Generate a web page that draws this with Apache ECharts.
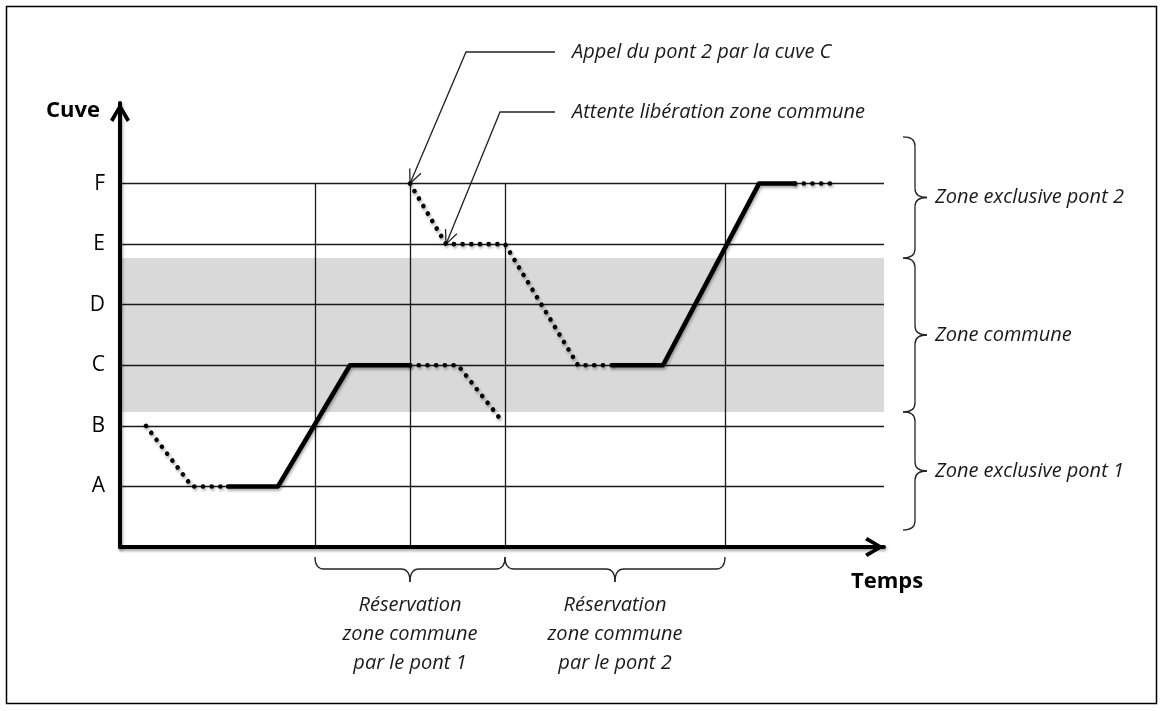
<!DOCTYPE html>
<html><head><meta charset="utf-8">
<script src="https://cdn.jsdelivr.net/npm/echarts@6/dist/echarts.min.js"></script>
<style>html,body{margin:0;padding:0;background:#fff}#c{width:1164px;height:711px}</style>
</head><body><div id="c"></div>
<script>
// ---- data ----
const yTickLabels = ['A', 'B', 'C', 'D', 'E', 'F'];   // tank levels at y = 1..6
const yAxisName = 'Cuve';
const xAxisName = 'Temps';
// Pont 1 path (x = time units, y = tank level)
const pont1Approach = [[5.2, 2], [14.4, 1], [21.6, 1]];
const pont1Move = [[21.6, 1], [31.6, 1], [46, 3], [58, 3]];
const pont1Leave = [[58, 3], [67.6, 3], [76.4, 2.08]];
// Pont 2 path
const pont2Approach = [[58, 6], [65.2, 5], [77, 5], [91.6, 3], [98.6, 3]];
const pont2Move = [[98.6, 3], [108.6, 3], [127.8, 6], [135, 6]];
const pont2Leave = [[135, 6], [142, 6]];
// Time marks (vertical lines, up to level F)
const timeMarks = [39, 58, 77, 121];
const commonZone = [2.23, 4.77];
const zoneNames = ['Zone exclusive pont 2', 'Zone commune', 'Zone exclusive pont 1'];
const zoneFrom = [4.77, 2.23, 0.28];
const zoneTo = [6.77, 4.77, 2.23];
const reservationLabels = ['Réservation\nzone commune\npar le pont 1', 'Réservation\nzone commune\npar le pont 2'];
const reservationFrom = [39, 77];
const reservationTo = [77, 121];
const calloutLabels = ['Appel du pont 2 par la cuve C', 'Attente libération zone commune'];
const calloutTargets = [[58, 6], [65.2, 5]];

// ---- styles ----
const DOT = [0.1, 8.6];
const shadow = {shadowBlur: 3, shadowColor: 'rgba(0,0,0,0.35)', shadowOffsetX: 1, shadowOffsetY: 2};
const chevron = 'path://M9,0 L18,15 L15,17 L9,6 L3,17 L0,15 Z';
const FONT = '"Open Sans", "DejaVu Sans", sans-serif';

function pathSeries(name, data, dotted, extra) {
  return Object.assign({
    name: name, type: 'line', data: data, showSymbol: false, symbol: 'none',
    silent: true, clip: false, z: 3,
    lineStyle: Object.assign({color: '#000', width: 4.6, type: dotted ? DOT : 'solid', cap: 'round', join: 'round'}, shadow)
  }, extra || {});
}

const option = {
  animation: false,
  backgroundColor: '#fff',
  grid: {left: 120, top: 103, width: 764, height: 444, containLabel: false, outerBoundsMode: 'none'},
  xAxis: {
    type: 'value', min: 0, max: 152.8, z: 10,
    name: xAxisName, nameLocation: 'end', nameGap: 3,
    nameTextStyle: {fontFamily: FONT, fontWeight: 'bold', fontSize: 22, color: '#000', align: 'center', verticalAlign: 'top', padding: [24, 0, 0, 0]},
    axisLine: {show: true, symbol: ['none', chevron], symbolSize: [20, 19], symbolOffset: [0, -9.5],
      lineStyle: Object.assign({color: '#000', width: 4}, shadow)},
    axisTick: {show: false}, axisLabel: {show: false}, splitLine: {show: false}
  },
  yAxis: {
    type: 'value', min: 0, max: 7.33, interval: 1, z: 10,
    name: yAxisName, nameLocation: 'end', nameGap: -8,
    nameTextStyle: {fontFamily: FONT, fontWeight: 'bold', fontSize: 22, color: '#000', align: 'right', verticalAlign: 'middle', padding: [0, 20, 0, 0]},
    axisLine: {show: true, symbol: ['none', chevron], symbolSize: [20, 19], symbolOffset: [0, -9.5],
      lineStyle: Object.assign({color: '#000', width: 4}, shadow)},
    axisTick: {show: false},
    axisLabel: {show: true, margin: 15, fontSize: 21, fontFamily: FONT, color: '#000',
      formatter: v => (Number.isInteger(v) && yTickLabels[v - 1]) ? yTickLabels[v - 1] : ''},
    splitLine: {show: false}
  },
  series: [
    pathSeries('Pont 1 approche', pont1Approach, true, {
      markArea: {silent: true, z: 1, itemStyle: {color: '#d9d9d9'}, label: {show: false},
        data: [[{yAxis: commonZone[0]}, {yAxis: commonZone[1]}]]}
    }),
    pathSeries('Pont 1 déplacement', pont1Move, false, {
      markLine: {silent: true, symbol: 'none', z: 2, animation: false, label: {show: false},
        lineStyle: {color: '#1a1a1a', width: 1.3, type: 'solid'},
        data: yTickLabels.map((_, i) => ({yAxis: i + 1}))
          .concat(timeMarks.map(t => [{coord: [t, 0]}, {coord: [t, yTickLabels.length]}]))}
    }),
    pathSeries('Pont 1 libération', pont1Leave, true),
    pathSeries('Pont 2 approche', pont2Approach, true),
    pathSeries('Pont 2 déplacement', pont2Move, false),
    pathSeries('Pont 2 suite', pont2Leave, true)
  ]
};

const chart = echarts.init(document.getElementById('c'), null, {renderer: 'canvas'});
chart.setOption(option);

const px = p => chart.convertToPixel({gridIndex: 0}, p);
const thin = {stroke: '#222', lineWidth: 1.3, fill: null};
const textFont = 'italic 20px ' + FONT;
const g = [];
const line = (a, b) => g.push({type: 'line', silent: true, shape: {x1: a[0], y1: a[1], x2: b[0], y2: b[1]}, style: thin});
const quad = (a, c, b) => g.push({type: 'bezierCurve', silent: true,
  shape: {x1: a[0], y1: a[1], cpx1: c[0], cpy1: c[1], x2: b[0], y2: b[1]}, style: thin});

g.push({type: 'rect', silent: true, z: 0, shape: {x: 6.5, y: 6.5, width: 1150, height: 697},
  style: {fill: null, stroke: '#000', lineWidth: 1.5}});

// right-hand braces for zones
zoneNames.forEach((name, i) => {
  const y1 = px([0, zoneTo[i]])[1], y2 = px([0, zoneFrom[i]])[1], ym = (y1 + y2) / 2;
  const xe = 903, xs = 915, xt = 927, r = 9;
  quad([xe, y1], [xs, y1], [xs, y1 + r]);
  line([xs, y1 + r], [xs, ym - r]);
  quad([xs, ym - r], [xs, ym], [xt, ym]);
  quad([xt, ym], [xs, ym], [xs, ym + r]);
  line([xs, ym + r], [xs, y2 - r]);
  quad([xs, y2 - r], [xs, y2], [xe, y2]);
  g.push({type: 'text', silent: true, x: 935, y: ym,
    style: {text: name, font: textFont, fill: '#1a1a1a', align: 'left', verticalAlign: 'middle'}});
});

// bottom braces for reservations
reservationLabels.forEach((label, i) => {
  const x1 = px([reservationFrom[i], 0])[0], x2 = px([reservationTo[i], 0])[0], xm = (x1 + x2) / 2;
  const ye = 557, ys = 569, yt = 582, r = 9;
  quad([x1, ye], [x1, ys], [x1 + r, ys]);
  line([x1 + r, ys], [xm - r, ys]);
  quad([xm - r, ys], [xm, ys], [xm, yt]);
  quad([xm, yt], [xm, ys], [xm + r, ys]);
  line([xm + r, ys], [x2 - r, ys]);
  quad([x2 - r, ys], [x2, ys], [x2, ye]);
  g.push({type: 'text', silent: true, x: xm, y: 591,
    style: {text: label, font: textFont, fill: '#1a1a1a', align: 'center', verticalAlign: 'top', lineHeight: 29}});
});

// callouts
const calloutLayout = [{y: 52, cornerX: 466}, {y: 112, cornerX: 500}];
calloutLabels.forEach((label, i) => {
  const [tx, ty] = px(calloutTargets[i]);
  const L = calloutLayout[i];
  g.push({type: 'polyline', silent: true, shape: {points: [[555, L.y], [L.cornerX, L.y], [tx, ty]]}, style: thin});
  const dx = tx - L.cornerX, dy = ty - L.y, len = Math.hypot(dx, dy), ux = dx / len, uy = dy / len;
  const al = 15, a = 24 * Math.PI / 180;
  const arm = s => [tx - al * (ux * Math.cos(s * a) - uy * Math.sin(s * a)), ty - al * (ux * Math.sin(s * a) + uy * Math.cos(s * a))];
  g.push({type: 'polyline', silent: true, shape: {points: [arm(1), [tx, ty], arm(-1)]}, style: thin});
  g.push({type: 'text', silent: true, x: 572, y: L.y,
    style: {text: label, font: textFont, fill: '#1a1a1a', align: 'left', verticalAlign: 'middle'}});
});

chart.setOption({graphic: {elements: g}});
</script>
</body></html>
